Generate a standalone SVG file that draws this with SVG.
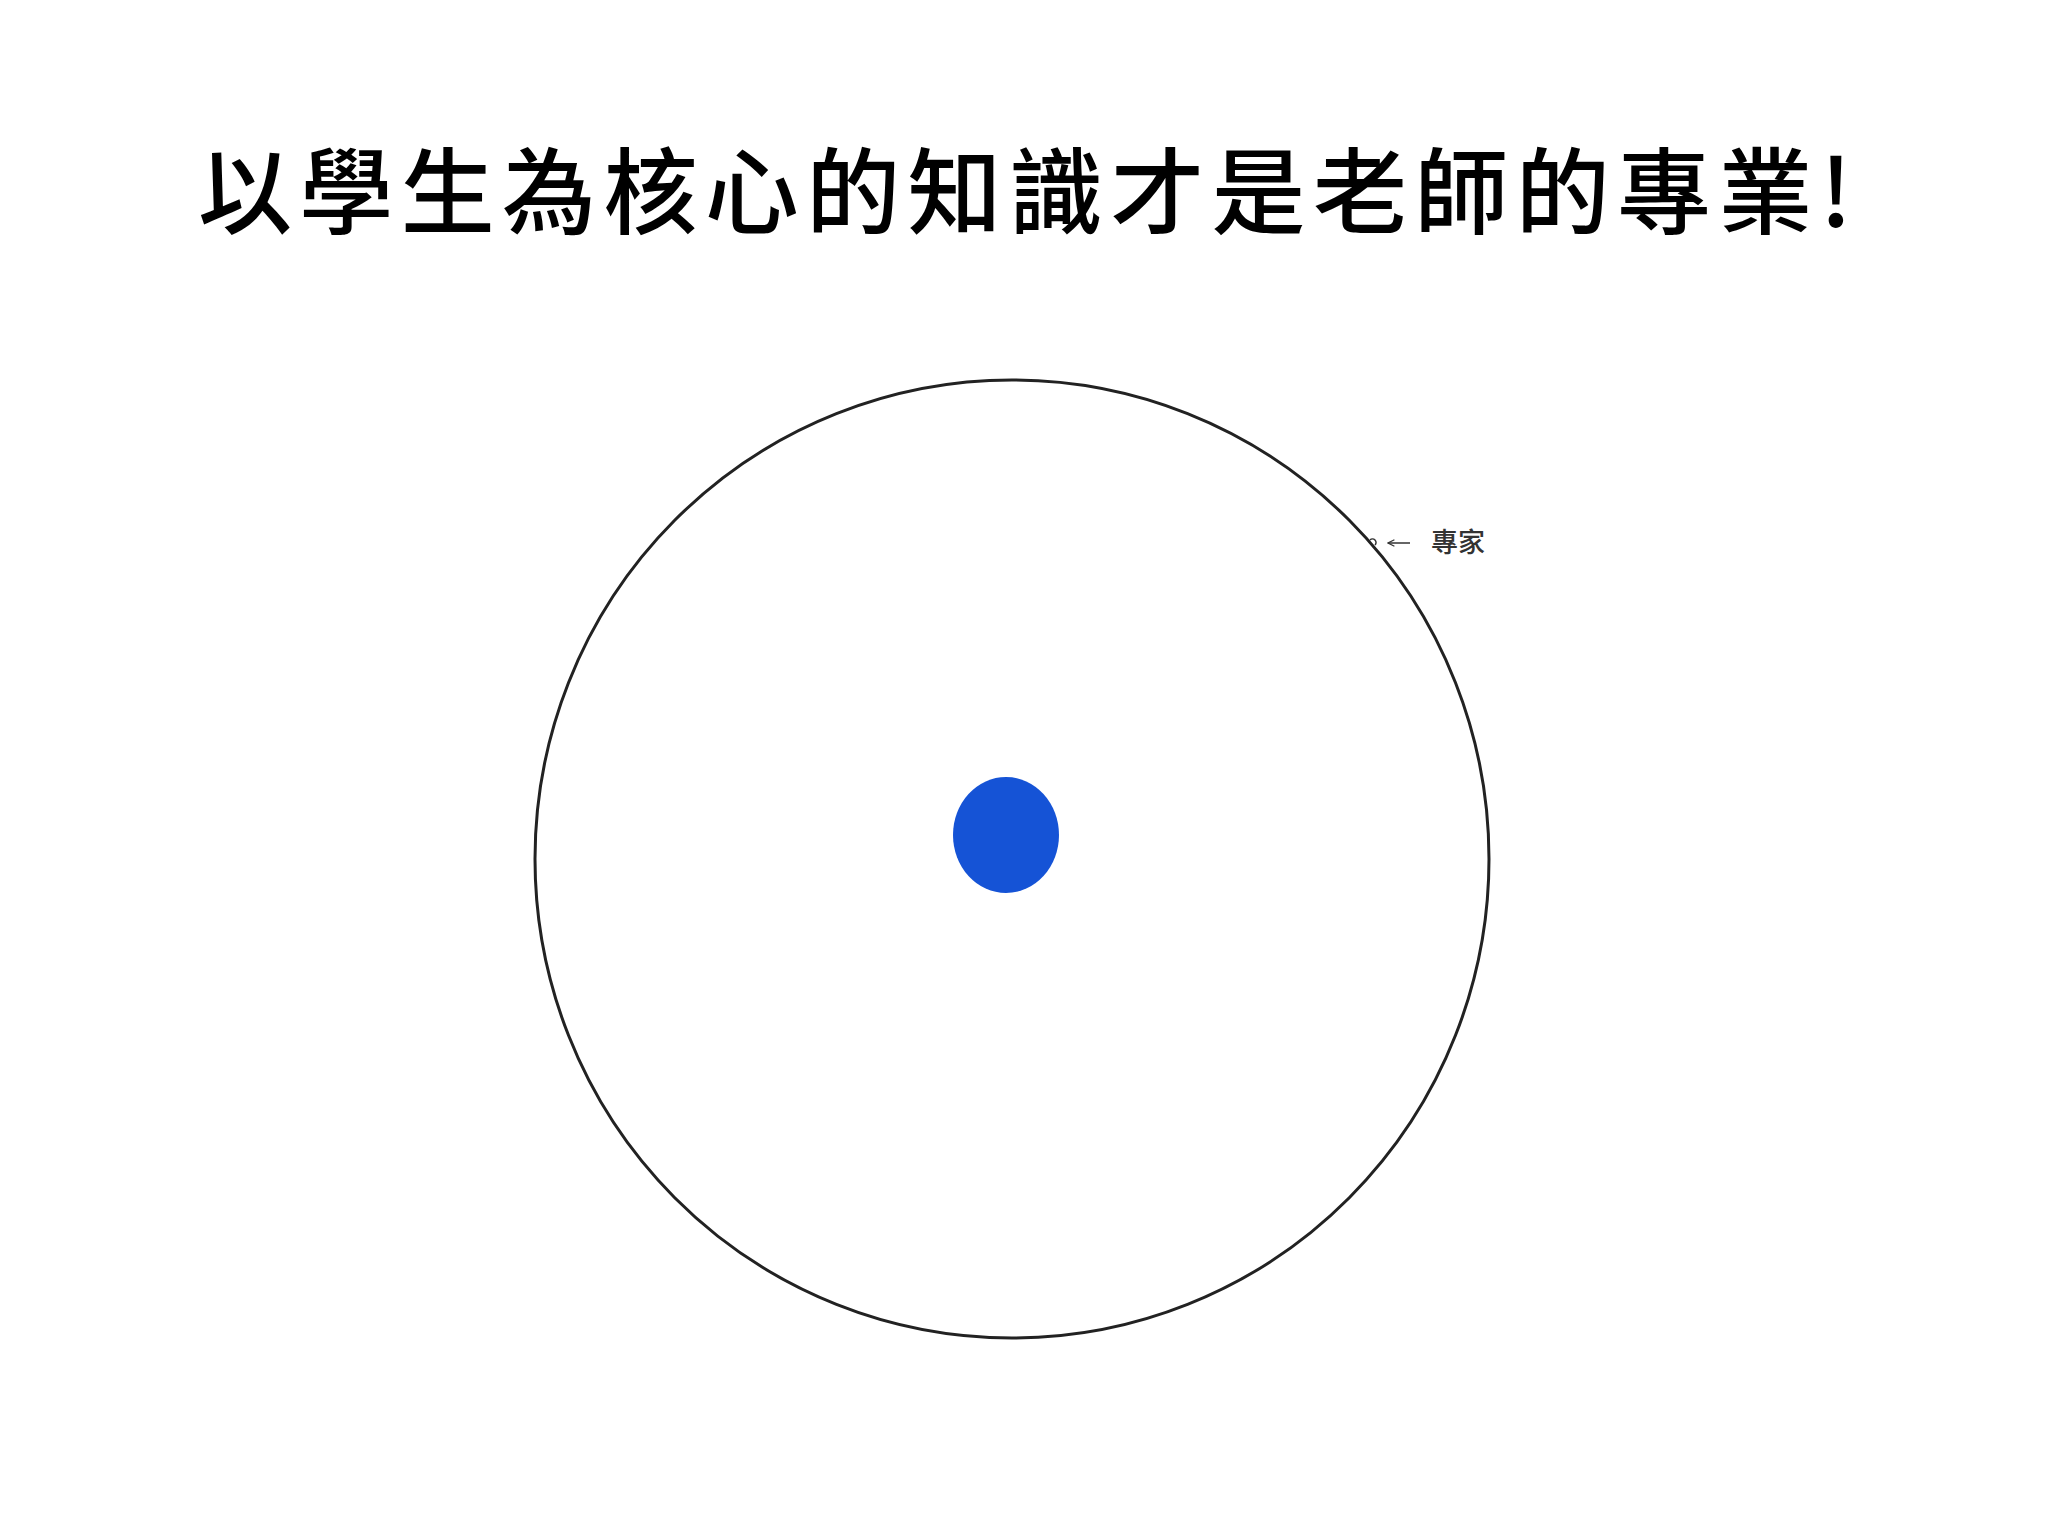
<svg xmlns="http://www.w3.org/2000/svg" width="2048" height="1536" viewBox="0 0 2048 1536">
  <style>
    .title { font-family: "Noto Sans CJK TC", "Noto Sans CJK SC", sans-serif; font-size: 94px; font-weight: 500; fill: #000; }
    .label { font-family: "Noto Sans CJK TC", "Noto Sans CJK SC", sans-serif; font-size: 27px; font-weight: 500; fill: #333; }
    .ring { fill: #fff; stroke: #222; stroke-width: 3; }
    .core { fill: #1553D6; }
    .conn { stroke: #333; stroke-width: 1.5; fill: none; }
  </style>
  <defs>
    <marker id="arr" viewBox="0 0 10 10" refX="9" refY="5" markerWidth="8" markerHeight="8" markerUnits="userSpaceOnUse" orient="auto">
      <path d="M1,1 L9,5 L1,9" fill="none" stroke="#333" stroke-width="1.5"/>
    </marker>
  </defs>
  <rect width="2048" height="1536" fill="#fff"/>
  <text class="title" x="198" y="227" textLength="1654" lengthAdjust="spacing">以學生為核心的知識才是老師的專業!</text>
  <g id="expert-circle">
    <ellipse class="ring" cx="1012" cy="859" rx="477" ry="479"/>
    <path d="M1370,540 a3.5,3.5 0 1 1 5,5" class="conn" stroke="#222" stroke-width="2"/>
  </g>
  <g id="student-core">
    <ellipse class="core" cx="1006" cy="835" rx="53" ry="58"/>
  </g>
  <g id="expert-label">
    <text class="label" x="1431" y="552">專家</text>
  </g>
  <g id="connectors">
    <line class="conn" x1="1410" y1="543" x2="1388" y2="543" marker-end="url(#arr)"/>
  </g>
</svg>
